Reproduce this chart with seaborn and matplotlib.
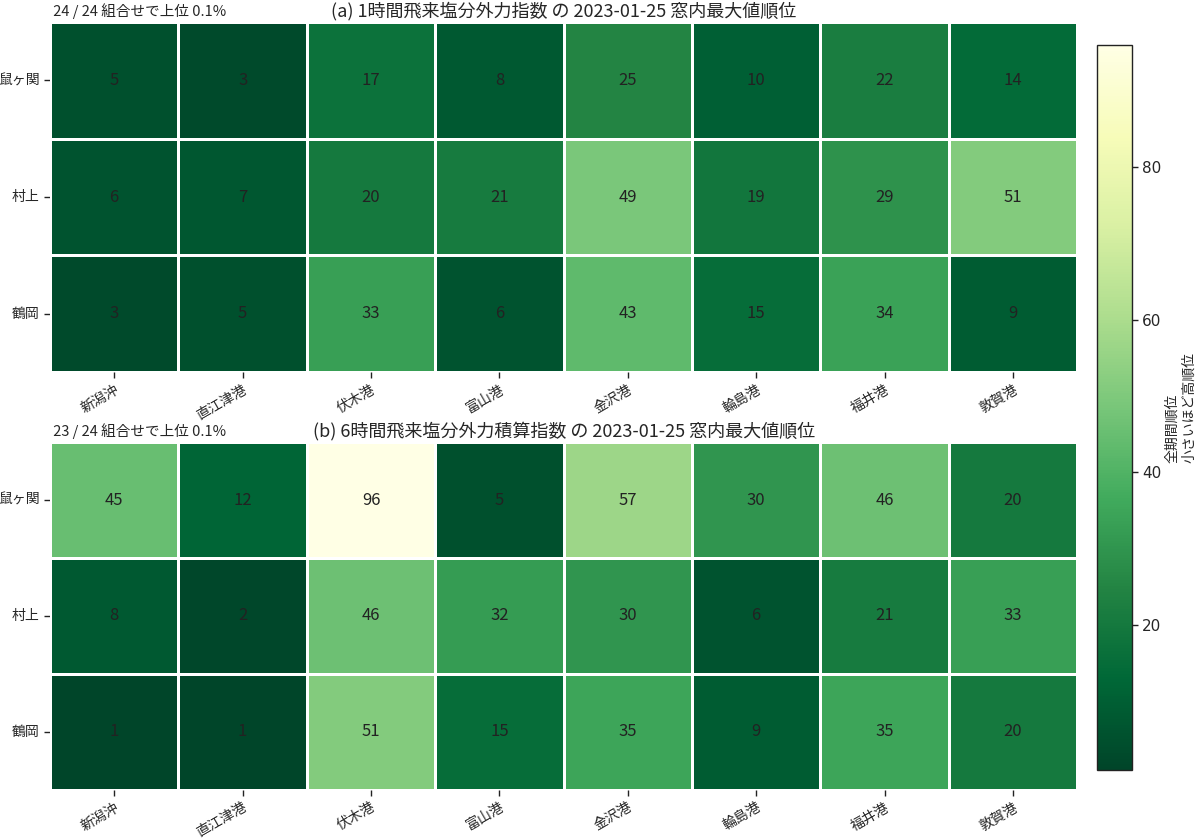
import numpy as np
import pandas as pd
import matplotlib
matplotlib.use('Agg')
import matplotlib.pyplot as plt
import seaborn as sns

# 行: 観測地点, 列: 港
rows = ["鼠ヶ関", "村上", "鶴岡"]
ports = ["新潟沖", "直江津港", "伏木港", "富山港", "金沢港", "輪島港", "福井港", "敦賀港"]

rank_1h = [
    [5, 3, 17, 8, 25, 10, 22, 14],
    [6, 7, 20, 21, 49, 19, 29, 51],
    [3, 5, 33, 6, 43, 15, 34, 9],
]
rank_6h = [
    [45, 12, 96, 5, 57, 30, 46, 20],
    [8, 2, 46, 32, 30, 6, 21, 33],
    [1, 1, 51, 15, 35, 9, 35, 20],
]

titles = ["(a) 1時間飛来塩分外力指数 の 2023-01-25 窓内最大値順位",
          "(b) 6時間飛来塩分外力積算指数 の 2023-01-25 窓内最大値順位"]
notes = ["24 / 24 組合せで上位 0.1%", "23 / 24 組合せで上位 0.1%"]
cbar_label = "全期間順位\n小さいほど高順位"

sns.set_theme(style="white")
plt.rcParams['font.family'] = ['Noto Sans CJK JP', 'DejaVu Sans']

vmin = min(np.min(rank_1h), np.min(rank_6h))
vmax = max(np.max(rank_1h), np.max(rank_6h))

fig = plt.figure(figsize=(12, 8.38), dpi=100)
ax1 = fig.add_axes([0.0417, 0.556, 0.856, 0.4177])
ax2 = fig.add_axes([0.0417, 0.0575, 0.856, 0.415])
cax = fig.add_axes([0.914, 0.0811, 0.029, 0.8652])

for i, (ax, data) in enumerate(zip([ax1, ax2], [rank_1h, rank_6h])):
    df = pd.DataFrame(data, index=rows, columns=ports)
    sns.heatmap(
        df, ax=ax, cmap="YlGn_r", vmin=vmin, vmax=vmax,
        annot=True, fmt="d", linewidths=0.8, linecolor="white",
        annot_kws={"color": "#222222", "fontsize": 12},
        cbar=(i == 0), cbar_ax=cax if i == 0 else None,
    )
    ax.set_title(titles[i], fontsize=13, pad=4)
    ax.set_title(" " + notes[i], loc="left", fontsize=10.5, pad=4)
    ax.set_xlabel("")
    ax.set_ylabel("")
    ax.tick_params(axis="both", which="both", length=4, width=1, bottom=True, left=True,
                   labelsize=10, color="#222222")
    plt.setp(ax.get_xticklabels(), rotation=30, ha="right", rotation_mode="anchor")
    plt.setp(ax.get_yticklabels(), rotation=0)

cbar = ax1.collections[0].colorbar
cbar.set_ticks([20, 40, 60, 80])
cbar.ax.tick_params(labelsize=11, length=4, width=1, color="#222222")
for lab in cbar.ax.get_yticklabels():
    lab.set_family("DejaVu Sans")
cbar.outline.set_edgecolor("#222222")
cbar.outline.set_linewidth(1)
cbar.set_label(cbar_label, fontsize=10, labelpad=3, multialignment="left")

fig.savefig("out.png", dpi=100)
